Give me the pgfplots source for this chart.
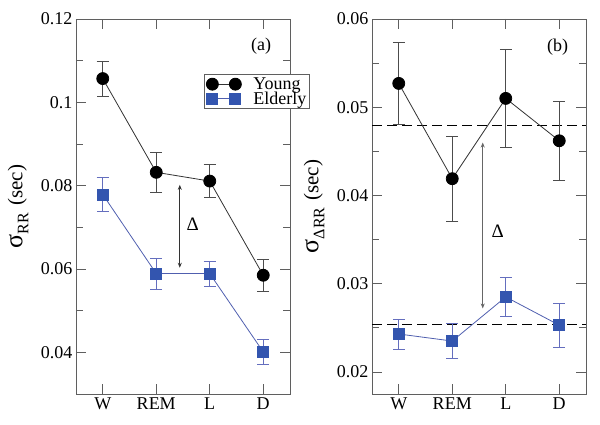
\documentclass[border=0pt]{standalone}
\usepackage{fontspec}
\setmainfont{Liberation Serif}
\usepackage{pgfplots}
\pgfplotsset{compat=1.18}
\usetikzlibrary{arrows.meta}
\definecolor{eblue}{RGB}{51,85,175}
\definecolor{eline}{RGB}{80,95,175}
\definecolor{ebar}{RGB}{100,110,190}
\definecolor{frame}{RGB}{95,95,95}

\pgfplotsset{
 panel/.style={
  scale only axis, width=214pt, height=375pt,
  xmin=-0.5, xmax=3.5, xtick={0,1,2,3}, xticklabels={W,REM,L,D},
  tick align=inside, xtick pos=both, ytick pos=both,
  major tick length=10pt, minor tick length=7pt,
  axis line style={frame, line width=0.8pt},
  every tick/.style={frame, line width=0.8pt},
  tick label style={font=\fontsize{18}{20}\selectfont},
  scaled y ticks=false,
  minor y tick num=1,
 },
 young/.style={black!80, line width=0.8pt, mark=*, mark size=6pt,
  mark options={fill=black, draw=black},
  error bars/y dir=both, error bars/y explicit,
  error bars/error bar style={black!70, line width=0.8pt},
  error bars/error mark options={rotate=90, black!70, mark size=6pt, line width=0.8pt}},
 elderly/.style={eline, line width=0.8pt, mark=square*, mark size=5.5pt,
  mark options={fill=eblue, draw=eblue},
  error bars/y dir=both, error bars/y explicit,
  error bars/error bar style={ebar, line width=0.8pt},
  error bars/error mark options={rotate=90, ebar, mark size=6pt, line width=0.8pt}},
}

\begin{document}
\begin{tikzpicture}
\begin{axis}[panel, name=a,
  ymin=0.03, ymax=0.12,
  ytick={0.04,0.06,0.08,0.1,0.12},
  yticklabels={0.04,0.06,0.08,0.1,0.12},
  ylabel={\fontsize{26}{28}\selectfont σ\raisebox{-6pt}{\fontsize{16}{18}\selectfont RR}\hspace{7pt}\fontsize{21}{24}\selectfont (sec)},
  ylabel style={at={(axis description cs:-0.2056,0.5)}, anchor=south},
  legend style={at={(0.598,0.853)}, anchor=north west, draw=frame, line width=0.8pt,
    font=\fontsize{18}{20}\selectfont, inner sep=2pt, row sep=-1pt,
    nodes={inner sep=1pt}},
  legend cell align=left,
  legend image code/.code={
    \draw[mark repeat=1,mark phase=1,#1] plot coordinates {(2pt,0pt) (25pt,0pt)};},
]
\addplot[young] coordinates {
 (0,0.1057) +- (0,0.0042)
 (1,0.0832) +- (0,0.0047)
 (2,0.0811) +- (0,0.0040)
 (3,0.0585) +- (0,0.0039)
};
\addlegendentry{\kern11pt Young}
\addplot[elderly] coordinates {
 (0,0.0779) +- (0,0.0041)
 (1,0.0589) +- (0,0.0037)
 (2,0.0589) +- (0,0.0030)
 (3,0.0401) +- (0,0.0031)
};
\addlegendentry{\kern11pt Elderly}
\draw[black!80, line width=0.7pt, {Stealth[length=5pt,width=4pt]}-{Stealth[length=5pt,width=4pt]}]
  (axis cs:1.44,0.0802) -- (axis cs:1.44,0.0603);
\node[font=\fontsize{19}{21}\selectfont] at (axis cs:1.68,0.0707) {Δ};
\node[font=\fontsize{18}{20}\selectfont] at (axis cs:2.96,0.1134) {(a)};
\end{axis}

\begin{axis}[panel, name=b, at={(296pt,0pt)},
  ymin=0.0175, ymax=0.06,
  ytick={0.02,0.03,0.04,0.05,0.06},
  yticklabels={0.02,0.03,0.04,0.05,0.06},
  ylabel={\fontsize{26}{28}\selectfont σ\raisebox{-6pt}{\fontsize{16}{18}\selectfont ΔRR}\hspace{7pt}\fontsize{21}{24}\selectfont (sec)},
  ylabel style={at={(axis description cs:-0.2056,0.5)}, anchor=south},
]
\addplot[black, line width=1.3pt, dash pattern=on 10pt off 5pt, forget plot] coordinates {(-0.5,0.0479) (3.5,0.0479)};
\addplot[black, line width=1.3pt, dash pattern=on 10pt off 5pt, forget plot] coordinates {(-0.5,0.0254) (3.5,0.0254)};
\addplot[young] coordinates {
 (0,0.0527) +- (0,0.0046)
 (1,0.0419) +- (0,0.0048)
 (2,0.0510) +- (0,0.0055)
 (3,0.0462) +- (0,0.0045)
};
\addplot[elderly] coordinates {
 (0,0.0243) +- (0,0.0017)
 (1,0.0235) +- (0,0.0020)
 (2,0.0285) +- (0,0.0022)
 (3,0.0253) +- (0,0.0025)
};
\draw[black!60, line width=0.7pt, {Stealth[length=5pt,width=4pt]}-{Stealth[length=5pt,width=4pt]}]
  (axis cs:1.57,0.0460) -- (axis cs:1.57,0.0272);
\node[font=\fontsize{19}{21}\selectfont] at (axis cs:1.85,0.0360) {Δ};
\node[font=\fontsize{18}{20}\selectfont] at (axis cs:2.97,0.0568) {(b)};
\end{axis}
\path (-76pt,-31pt) rectangle (524pt,394pt);
\end{tikzpicture}
\end{document}
